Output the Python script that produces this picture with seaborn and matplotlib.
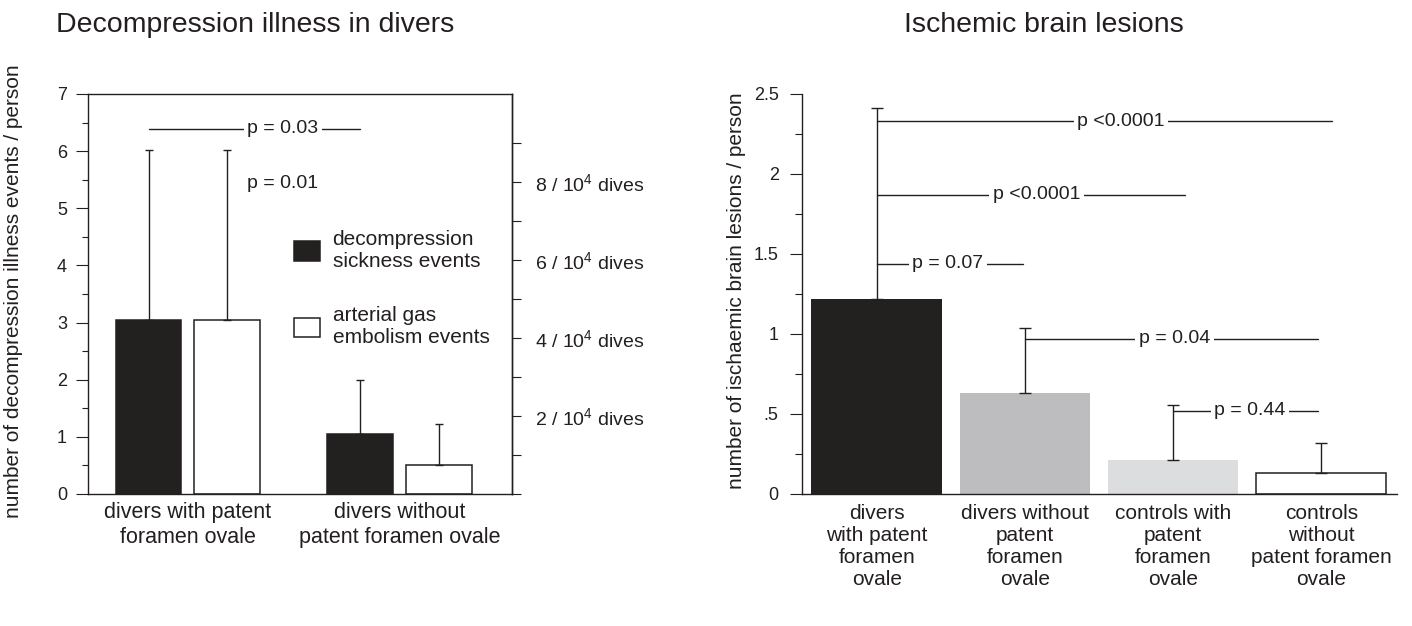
import matplotlib
matplotlib.use("Agg")
import matplotlib.pyplot as plt
from matplotlib.ticker import MultipleLocator
import pandas as pd
import seaborn as sns

# ---- left panel: decompression illness ----
groups = ["divers with patent\nforamen ovale", "divers without\npatent foramen ovale"]
event_types = ["decompression\nsickness events", "arterial gas\nembolism events"]
dcs_mean = [3.05, 1.05]
age_mean = [3.05, 0.50]
dcs_upper = [6.02, 2.00]
age_upper = [6.02, 1.23]
left_yticks = [0, 1, 2, 3, 4, 5, 6, 7]
# right hand scale of the left panel (events / 10^4 dives)
rate_per_unit = 0.683
rate_ticks = [0, 1, 2, 3, 4, 5, 6, 7, 8, 9]
rate_labels = ["", "", "2 / 10$^4$ dives", "", "4 / 10$^4$ dives", "",
               "6 / 10$^4$ dives", "", "8 / 10$^4$ dives", ""]
p_left_labels = ["p = 0.03", "p = 0.01"]
p_left_y = [6.39, 5.44]
p_left_text_x = [0.45, 0.45]

# ---- right panel: ischemic brain lesions ----
lesion_groups = ["divers\nwith patent\nforamen\novale",
                 "divers without\npatent\nforamen\novale",
                 "controls with\npatent\nforamen\novale",
                 "controls\nwithout\npatent foramen\novale"]
lesion_mean = [1.22, 0.63, 0.21, 0.13]
lesion_upper = [2.41, 1.04, 0.555, 0.32]
lesion_colors = ["#231f20", "#bcbdc0", "#dcdddf", "#ffffff"]
right_yticks = [0, 0.5, 1, 1.5, 2, 2.5]
right_ytick_labels = ["0", ".5", "1", "1.5", "2", "2.5"]
p_right_labels = ["p <0.0001", "p <0.0001", "p = 0.07", "p = 0.04", "p = 0.44"]
p_right_from = [0, 0, 0, 1, 2]
p_right_to = [3.07, 2.08, 0.99, 2.98, 2.98]
p_right_y = [2.33, 1.87, 1.44, 0.97, 0.52]
p_right_text_x = [1.65, 1.08, 0.48, 2.01, 2.52]

INK = "#231f20"

sns.set_theme(style="ticks")
plt.rcParams["font.family"] = ["Liberation Sans", "DejaVu Sans"]
plt.rcParams["mathtext.fontset"] = "custom"
plt.rcParams["mathtext.rm"] = "Liberation Sans"
plt.rcParams["mathtext.default"] = "regular"
plt.rcParams["text.color"] = INK
plt.rcParams["axes.edgecolor"] = INK
plt.rcParams["xtick.color"] = INK
plt.rcParams["ytick.color"] = INK

W, H = 1412, 626
fig = plt.figure(figsize=(W / 100, H / 100), dpi=100)
axL = fig.add_axes([88 / W, 132 / H, 424 / W, 400 / H])
axR = fig.add_axes([801.7 / W, 132 / H, 595 / W, 400 / H])

# ------------------------------------------------ left
df_left = pd.DataFrame({
    "group": groups * 2,
    "event": [event_types[0]] * 2 + [event_types[1]] * 2,
    "value": dcs_mean + age_mean,
})
sns.barplot(data=df_left, x="group", y="value", hue="event",
            palette=[INK, "#ffffff"], edgecolor=INK, linewidth=1.1,
            width=0.74, gap=0.16, errorbar=None, ax=axL, legend=True)

for cont, upper in zip(axL.containers, [dcs_upper, age_upper]):
    for bar, top in zip(cont, upper):
        xc = bar.get_x() + bar.get_width() / 2
        h = bar.get_height()
        axL.errorbar(xc, h, yerr=[[0], [top - h]], color=INK, lw=1.0,
                     capsize=3, capthick=1.0)

dcs_bars = list(axL.containers[0])
x0 = dcs_bars[0].get_x() + dcs_bars[0].get_width() / 2
x1 = dcs_bars[1].get_x() + dcs_bars[1].get_width() / 2
axL.plot([x0, x1], [p_left_y[0], p_left_y[0]], color=INK, lw=1.0)
for lab, tx, ty in zip(p_left_labels, p_left_text_x, p_left_y):
    axL.text(tx, ty, lab, ha="center", va="center", fontsize=14,
             bbox=dict(fc="white", ec="none", pad=2.5))

sns.move_legend(axL, "upper left", bbox_to_anchor=(0.486, 0.66), frameon=False,
                title=None, fontsize=15, handlelength=1.25, handleheight=1.05,
                handletextpad=0.6, labelspacing=1.7, borderpad=0, borderaxespad=0)

axL.set_xlim(-0.471, 1.531)
axL.set_ylim(0, 7)
axL.set_yticks(left_yticks)
axL.yaxis.set_minor_locator(MultipleLocator(0.5))
axL.set_xlabel("")
axL.set_ylabel("")
for s in axL.spines.values():
    s.set_visible(True)
    s.set_linewidth(1.0)
axL.tick_params(axis="y", which="major", direction="out", length=8.6, width=0.8,
                labelsize=13, pad=6.5)
axL.tick_params(axis="y", which="minor", direction="out", length=4.5, width=0.8)
axL.tick_params(axis="x", length=0, labelsize=15.5, pad=6)

axT = axL.twinx()
axT.set_ylim(0, 7 / rate_per_unit)
axT.set_yticks(rate_ticks)
axT.set_yticklabels(rate_labels)
for name, s in axT.spines.items():
    s.set_visible(name == "right")
    s.set_linewidth(1.0)
axT.tick_params(axis="y", direction="out", length=6.5, width=0.8, labelsize=14, pad=10)
axT.grid(False)

# ------------------------------------------------ right
df_right = pd.DataFrame({"group": lesion_groups, "value": lesion_mean})
sns.barplot(data=df_right, x="group", y="value", hue="group", palette=lesion_colors,
            width=0.88, errorbar=None, legend=False, ax=axR, linewidth=0)
bars = [p for c in axR.containers for p in c]
bars[-1].set_edgecolor(INK)
bars[-1].set_linewidth(1.1)
for bar, top in zip(bars, lesion_upper):
    xc = bar.get_x() + bar.get_width() / 2
    h = bar.get_height()
    axR.errorbar(xc, h, yerr=[[0], [top - h]], color=INK, lw=1.0,
                 capsize=4, capthick=1.0)

for lab, xa, xb, y, tx in zip(p_right_labels, p_right_from, p_right_to,
                              p_right_y, p_right_text_x):
    axR.plot([xa, xb], [y, y], color=INK, lw=1.0)
    axR.text(tx, y, lab, ha="center", va="center", fontsize=14,
             bbox=dict(fc="white", ec="none", pad=2.5))

axR.set_xlim(-0.506, 3.509)
axR.set_ylim(0, 2.5)
axR.set_yticks(right_yticks)
axR.set_yticklabels(right_ytick_labels)
axR.yaxis.set_minor_locator(MultipleLocator(0.25))
axR.set_xlabel("")
axR.set_ylabel("")
sns.despine(ax=axR)
axR.spines["left"].set_linewidth(1.0)
axR.spines["bottom"].set_linewidth(1.0)
axR.tick_params(axis="y", which="major", direction="out", length=8.6, width=0.8,
                labelsize=13, pad=8)
axR.tick_params(axis="y", which="minor", direction="out", length=4.7, width=0.8)
axR.tick_params(axis="x", length=0, labelsize=15, pad=7)

# ------------------------------------------------ titles and axis titles
fig.text(56 / W, 1 - 32 / H, "Decompression illness in divers", fontsize=20.5,
         ha="left", va="baseline")
fig.text(1044 / W, 1 - 32 / H, "Ischemic brain lesions", fontsize=20.5,
         ha="center", va="baseline")
fig.text(14 / W, 1 - 291 / H, "number of decompression illness events / person",
         rotation=90, fontsize=15, ha="center", va="center")
fig.text(736 / W, 1 - 291 / H, "number of ischaemic brain lesions / person",
         rotation=90, fontsize=15, ha="center", va="center")

fig.savefig("out.png", dpi=100)
